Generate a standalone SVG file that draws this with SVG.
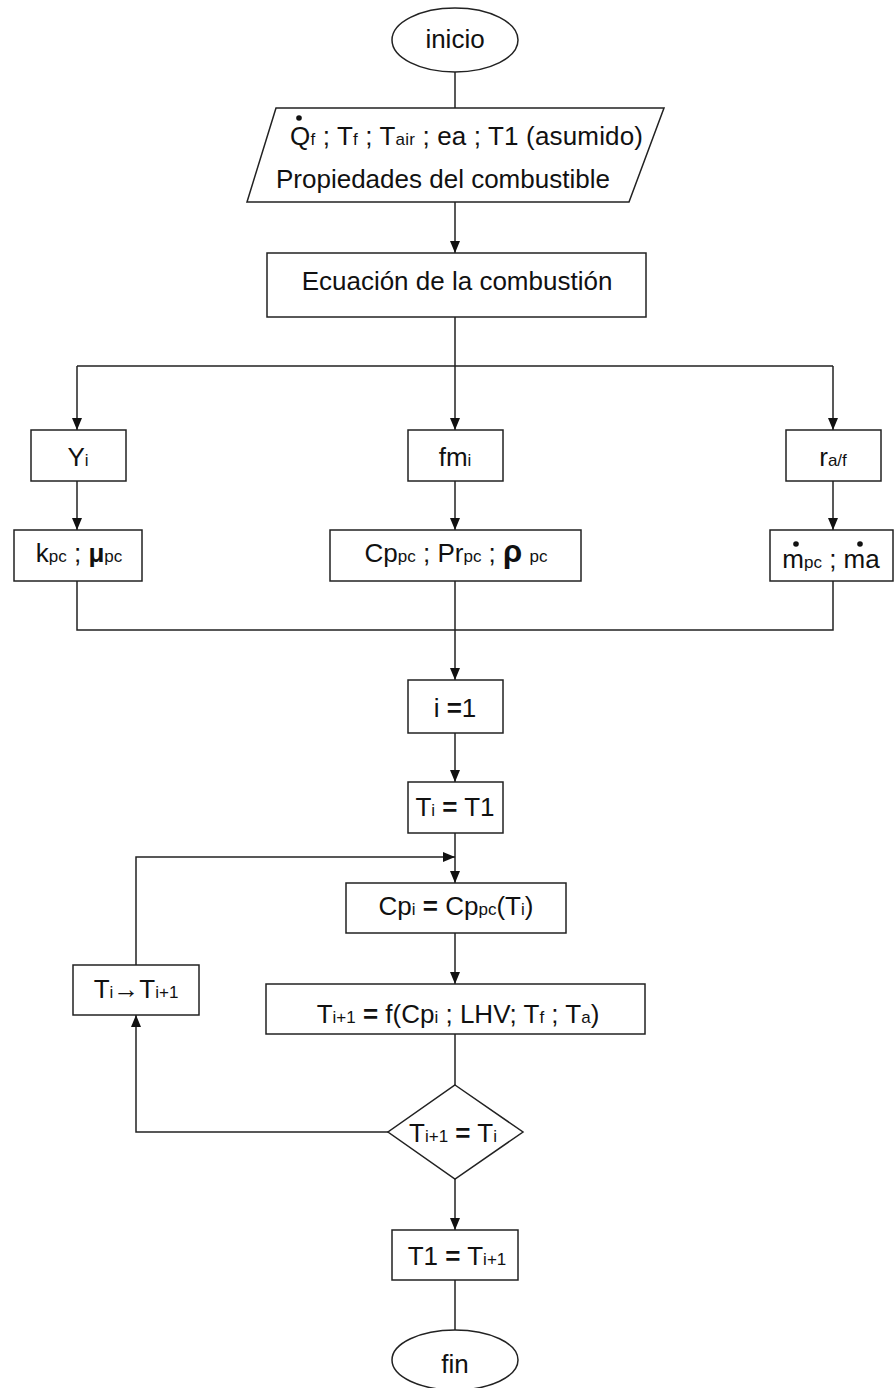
<svg xmlns="http://www.w3.org/2000/svg" width="894" height="1388" viewBox="0 0 894 1388">
<defs>
<marker id="ah" viewBox="0 0 12 10" refX="12" refY="5" markerWidth="12" markerHeight="10" markerUnits="userSpaceOnUse" orient="auto">
<path d="M0,0 L12,5 L0,10 Z" fill="#111"/>
</marker>
<style>
.s{fill:#fff;stroke:#222;stroke-width:1.5}
.c{fill:none;stroke:#222;stroke-width:1.5}
.a{fill:none;stroke:#222;stroke-width:1.5;marker-end:url(#ah)}
text{font-family:"Liberation Sans",Arial,sans-serif;font-size:26px;fill:#111}
.m{text-anchor:middle}
.sub{font-size:17px}
.b{font-weight:bold}
</style>
</defs>
<rect width="894" height="1388" fill="#fff"/>
<g id="connectors">
<path class="c" d="M455,72 V108"/>
<path class="a" d="M455,202 V253"/>
<path class="c" d="M455,317 V366 M77,366 H833"/>
<path class="a" d="M77,366 V430"/>
<path class="a" d="M455,366 V430"/>
<path class="a" d="M833,366 V430"/>
<path class="a" d="M77,481 V530"/>
<path class="a" d="M455,481 V530"/>
<path class="a" d="M833,481 V530"/>
<path class="c" d="M77,581 V630 H833 V581"/>
<path class="a" d="M455,581 V680"/>
<path class="a" d="M455,733 V782"/>
<path class="a" d="M455,833 V883"/>
<path class="a" d="M136,965 V857 H455"/>
<path class="a" d="M455,933 V984"/>
<path class="c" d="M455,1034 V1085"/>
<path class="a" d="M388,1132 H136 V1015"/>
<path class="a" d="M455,1179 V1230"/>
<path class="c" d="M455,1280 V1330"/>
</g>
<g id="inicio">
<ellipse class="s" cx="455" cy="40" rx="63" ry="32"/>
<text class="m" x="455" y="48">inicio</text>
</g>
<g id="entrada">
<polygon class="s" points="276,108 664,108 629,202 247,202"/>
<circle cx="299" cy="118" r="2.8" fill="#111"/>
<text x="290" y="145" textLength="353" lengthAdjust="spacing">Q<tspan class="sub">f</tspan> ; T<tspan class="sub">f</tspan> ; T<tspan class="sub">air</tspan> ; ea ; T1 (asumido)</text>
<text x="276" y="188">Propiedades del combustible</text>
</g>
<g id="ecuacion">
<rect class="s" x="267" y="253" width="379" height="64"/>
<text class="m" x="457" y="290">Ecuación de la combustión</text>
</g>
<g id="yi">
<rect class="s" x="31" y="430" width="95" height="51"/>
<text class="m" x="78" y="466">Y<tspan class="sub">i</tspan></text>
</g>
<g id="fmi">
<rect class="s" x="408" y="430" width="95" height="51"/>
<text class="m" x="455" y="466">fm<tspan class="sub">i</tspan></text>
</g>
<g id="raf">
<rect class="s" x="786" y="430" width="95" height="51"/>
<text class="m" x="833" y="466">r<tspan class="sub">a/f</tspan></text>
</g>
<g id="kmu">
<rect class="s" x="14" y="530" width="128" height="51"/>
<text class="m" x="79" y="562">k<tspan class="sub">pc</tspan> ; <tspan class="b">μ</tspan><tspan class="sub">pc</tspan></text>
</g>
<g id="cppr">
<rect class="s" x="330" y="530" width="251" height="51"/>
<text class="m" x="456" y="562">Cp<tspan class="sub">pc</tspan> ; Pr<tspan class="sub">pc</tspan> ;  <tspan class="b" font-size="31">ρ</tspan> <tspan class="sub">pc</tspan></text>
</g>
<g id="masas">
<rect class="s" x="770" y="530" width="123" height="51"/>
<circle cx="796" cy="544" r="2.8" fill="#111"/>
<circle cx="860" cy="544" r="2.8" fill="#111"/>
<text class="m" x="831" y="568">m<tspan class="sub">pc</tspan> ; ma</text>
</g>
<g id="i1">
<rect class="s" x="408" y="680" width="95" height="53"/>
<text class="m" x="455" y="717">i <tspan class="b">=</tspan>1</text>
</g>
<g id="tit1">
<rect class="s" x="408" y="782" width="95" height="51"/>
<text class="m" x="455" y="816">T<tspan class="sub">i</tspan> <tspan class="b">=</tspan> T1</text>
</g>
<g id="cpi">
<rect class="s" x="346" y="883" width="220" height="50"/>
<text class="m" x="456" y="915">Cp<tspan class="sub">i</tspan> <tspan class="b">=</tspan> Cp<tspan class="sub">pc</tspan>(T<tspan class="sub">i</tspan>)</text>
</g>
<g id="tnext">
<rect class="s" x="266" y="984" width="379" height="50"/>
<text class="m" x="458" y="1023">T<tspan class="sub">i+1</tspan> <tspan class="b">=</tspan> f(Cp<tspan class="sub">i</tspan> ; LHV; T<tspan class="sub">f</tspan> ; T<tspan class="sub">a</tspan>)</text>
</g>
<g id="update">
<rect class="s" x="73" y="965" width="126" height="50"/>
<text class="m" x="136" y="998">T<tspan class="sub">i</tspan>→T<tspan class="sub">i+1</tspan></text>
</g>
<g id="decision">
<polygon class="s" points="455,1085 523,1132 455,1179 388,1132"/>
<text class="m" x="453" y="1142">T<tspan class="sub">i+1</tspan> <tspan class="b">=</tspan> T<tspan class="sub">i</tspan></text>
</g>
<g id="t1final">
<rect class="s" x="392" y="1230" width="126" height="50"/>
<text class="m" x="457" y="1265">T1 <tspan class="b">=</tspan> T<tspan class="sub">i+1</tspan></text>
</g>
<g id="fin">
<ellipse class="s" cx="455" cy="1360" rx="63" ry="30"/>
<text class="m" x="455" y="1373">fin</text>
</g>
</svg>
